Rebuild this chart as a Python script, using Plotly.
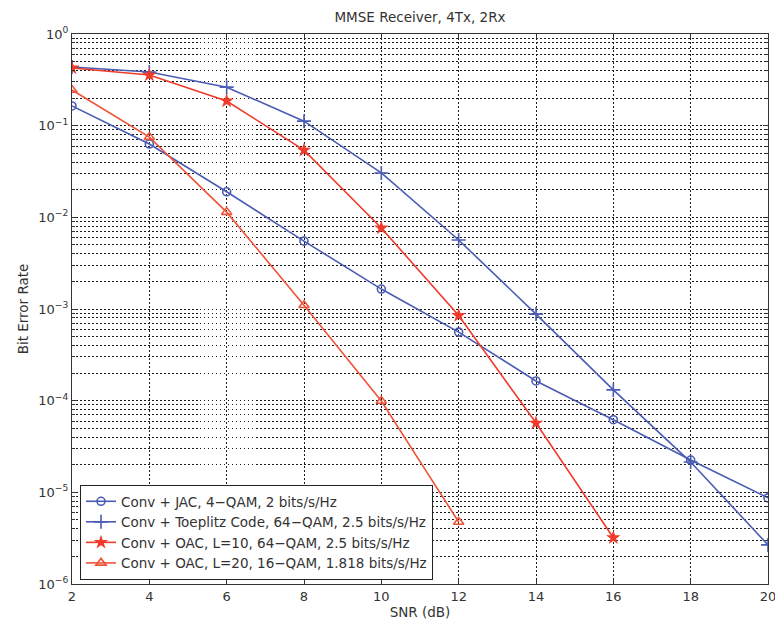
import plotly.graph_objects as go

snr = [2, 4, 6, 8, 10, 12, 14, 16, 18, 20]
ber_jac = [0.164, 0.063, 0.019, 0.0055, 0.00165, 5.6e-4, 1.64e-4, 6.2e-5, 2.25e-5, 8.7e-6]
ber_toep = [0.436, 0.385, 0.263, 0.112, 0.0305, 0.00566, 8.8e-4, 1.31e-4, 2.14e-5, 2.67e-6]
snr_oac10 = [2, 4, 6, 8, 10, 12, 14, 16]
ber_oac10 = [0.426, 0.357, 0.186, 0.054, 0.00765, 8.5e-4, 5.7e-5, 3.2e-6]
snr_oac20 = [2, 4, 6, 8, 10, 12]
ber_oac20 = [0.245, 0.075, 0.0114, 0.0011, 9.9e-5, 4.75e-6]

names = [
    "Conv + JAC, 4\u2212QAM, 2 bits/s/Hz",
    "Conv + Toeplitz Code, 64\u2212QAM, 2.5 bits/s/Hz",
    "Conv + OAC, L=10, 64\u2212QAM, 2.5 bits/s/Hz",
    "Conv + OAC, L=20, 16\u2212QAM, 1.818 bits/s/Hz",
]
xticks = [2, 4, 6, 8, 10, 12, 14, 16, 18, 20]
ytick_vals = [1e-6, 1e-5, 1e-4, 1e-3, 1e-2, 1e-1, 1e0]
ytick_text = ["10<sup>\u22126</sup>", "10<sup>\u22125</sup>", "10<sup>\u22124</sup>",
              "10<sup>\u22123</sup>", "10<sup>\u22122</sup>", "10<sup>\u22121</sup>", "10<sup>0</sup>"]
yminor_vals = [m * 10.0 ** e for e in range(-6, 0) for m in range(2, 10)]

blue = "#4a5cb4"
red = "#f03a2a"
orange = "#f05438"
ink = "#333333"
FONT = "DejaVu Sans, sans-serif"

W, H = 775, 625
ML, MR, MT, MB = 72, 7, 34, 41
PW, PH = W - ML - MR, H - MT - MB

fig = go.Figure()
fig.add_trace(go.Scatter(x=snr, y=ber_jac, name=names[0], mode="lines+markers",
                         line=dict(color=blue, width=1.6),
                         marker=dict(symbol="circle-open", size=8, color=blue, line=dict(width=1.6))))
fig.add_trace(go.Scatter(x=snr, y=ber_toep, name=names[1], mode="lines+markers",
                         line=dict(color=blue, width=1.6),
                         marker=dict(symbol="cross-thin-open", size=10, color=blue, line=dict(width=1.6, color=blue))))
fig.add_trace(go.Scatter(x=snr_oac10, y=ber_oac10, name=names[2], mode="lines+markers",
                         line=dict(color=red, width=1.6),
                         marker=dict(symbol="star", size=11, color=red, line=dict(width=0))))
fig.add_trace(go.Scatter(x=snr_oac20, y=ber_oac20, name=names[3], mode="lines+markers",
                         line=dict(color=orange, width=1.6),
                         marker=dict(symbol="triangle-up-open", size=9, color=orange, line=dict(width=1.6))))

gridstyle = dict(gridcolor="#1a1a1a", gridwidth=1, griddash="1.5px,2.5px")

fig.update_layout(
    width=W, height=H,
    margin=dict(l=ML, r=MR, t=MT, b=MB),
    paper_bgcolor="white", plot_bgcolor="white",
    font=dict(family=FONT, size=13, color=ink),
    title=dict(text="MMSE Receiver, 4Tx, 2Rx", x=(ML + PW / 2) / W, xanchor="center",
               y=1 - 17 / H, yanchor="middle", font=dict(size=13.5, color=ink)),
    showlegend=True,
    legend=dict(x=(80 - ML) / PW, y=(584 - 580) / PH, xanchor="left", yanchor="bottom",
                bgcolor="white", bordercolor="#222222", borderwidth=1,
                font=dict(family=FONT, size=13.5, color=ink),
                tracegroupgap=0, itemwidth=30),
)
fig.update_xaxes(
    range=[2, 20], tickvals=xticks, ticks="inside", ticklen=5, tickcolor=ink,
    showline=True, linecolor=ink, linewidth=1.3, mirror="ticks",
    showgrid=True, **gridstyle, zeroline=False, automargin=False,
    ticklabeloverflow="allow",
    title=dict(text="SNR (dB)", standoff=4, font=dict(size=13.5)),
    tickfont=dict(size=13),
)
fig.update_yaxes(
    type="log", range=[-6, 0], tickvals=ytick_vals, ticktext=ytick_text,
    ticks="inside", ticklen=5, tickcolor=ink,
    showline=True, linecolor=ink, linewidth=1.3, mirror="ticks",
    showgrid=True, **gridstyle, zeroline=False, automargin=False,
    ticklabeloverflow="allow",
    minor=dict(tickmode="array", tickvals=yminor_vals, ticks="inside", ticklen=3,
               tickcolor=ink, showgrid=True, gridcolor="#1a1a1a",
               griddash="1.5px,2.5px", gridwidth=1),
    title=dict(text="Bit Error Rate", standoff=6, font=dict(size=13.5)),
    tickfont=dict(size=13),
)

fig.write_html("out.html", config={"displayModeBar": False},
               post_script="document.body.style.margin='0';document.body.style.overflow='hidden';")
